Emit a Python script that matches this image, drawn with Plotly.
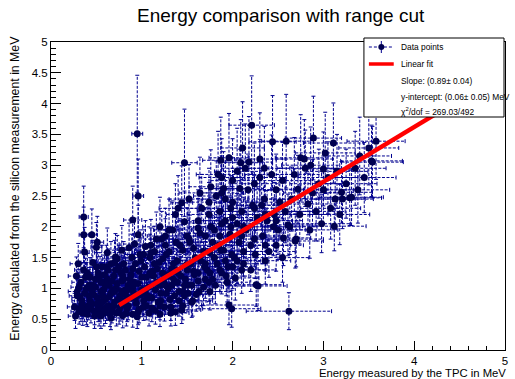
import plotly.graph_objects as go

# ---------------- data ----------------
x_tpc = [
    0.26,0.29,0.31,0.33,0.34,0.36,0.37,0.39,0.40,0.42,
    0.43,0.45,0.46,0.48,0.49,0.51,0.52,0.54,0.55,0.57,
    0.58,0.60,0.61,0.63,0.64,0.66,0.67,0.69,0.70,0.72,
    0.73,0.75,0.76,0.78,0.79,0.81,0.82,0.84,0.85,0.87,
    0.88,0.90,0.91,0.93,0.94,0.96,0.97,0.99,1.00,1.02,
    0.32,0.38,0.44,0.50,0.56,0.62,0.68,0.74,0.80,0.86,
    0.35,0.41,0.47,0.53,0.59,0.65,0.71,0.77,0.83,0.89,
    0.28,0.34,0.40,0.46,0.52,0.58,0.64,0.70,0.76,0.82,
    0.36,0.36,0.45,0.37,0.51,0.50,0.56,0.71,0.86,0.90,
    0.96,0.96,0.95,1.37,1.44,1.47,1.47,1.22,1.30,1.10,
    1.03,1.05,1.07,1.09,1.11,1.13,1.15,1.17,1.19,1.21,
    1.23,1.25,1.27,1.29,1.31,1.33,1.35,1.37,1.39,1.41,
    1.43,1.45,1.47,1.49,1.51,1.53,1.55,1.57,1.59,1.62,
    1.06,1.12,1.18,1.24,1.30,1.36,1.42,1.48,1.54,1.60,
    1.65,1.68,1.70,1.72,1.75,1.78,1.80,1.83,1.85,1.88,
    0.62,0.78,0.92,1.04,1.16,1.26,1.34,1.10,0.98,1.20,
    1.90,1.92,1.95,1.97,2.00,2.02,2.05,2.07,2.10,2.12,
    2.15,2.17,2.20,2.22,2.25,2.27,2.30,2.33,2.35,2.38,
    1.62,1.66,1.70,1.74,1.78,1.82,1.86,1.90,1.94,1.98,
    1.87,1.96,2.21,2.11,2.09,2.44,2.59,2.75,1.88,2.61,
    2.56,2.69,2.26,2.10,2.03,2.28,2.62,1.96,1.99,1.75,
    2.40,2.43,2.46,2.48,2.50,2.52,2.55,2.58,2.45,2.35,
    2.00,2.05,2.14,2.18,2.24,2.30,1.84,1.92,2.08,2.32,
    3.58,3.50,3.53,3.29,3.11,2.89,3.12,3.21,3.00,2.86,
    2.79,2.72,2.83,2.63,3.54,3.31,3.20,3.13,2.65,2.95,
    2.68,2.74,2.80,2.88,2.92,3.00,3.05,3.08,3.15,3.25,
    3.35,3.40,3.45,2.70,2.98,3.18,2.55,2.85,3.38,3.02,
    0.27,0.30,0.55,0.66,0.79,0.95,1.08,1.20,1.32,1.45,
    0.60,0.70,0.80,0.90,1.00,1.10,1.20,1.30,1.40,1.50,
    1.55,1.62,1.68,1.74,1.80,1.86,1.92,2.20,2.36,2.48,
    0.31,0.37,0.43,0.49,0.55,0.61,0.67,0.73,0.79,0.85,
    0.91,0.97,1.03,1.09,1.15,1.21,1.27,1.33,1.39,1.45,
    0.33,0.39,0.45,0.51,0.57,0.63,0.69,0.75,0.81,0.87,
    0.93,0.99,1.05,1.11,1.17,1.23,1.29,1.35,1.41,1.47,
    1.51,1.57,1.63,1.69,1.75,1.81,1.87,1.93,1.99,2.05,
    0.29,0.42,0.54,0.66,0.78,0.90,1.02,1.14,1.26,1.38,
    1.52,1.64,1.76,1.88,2.00,2.12,2.24,2.36,1.58,1.70,
    0.48,0.60,0.72,0.84,0.96,1.08,1.20,1.32,1.44,1.56,
    1.02,1.14,1.26,1.38,1.50,1.62,1.74,1.86,1.98,2.10,
    1.40,1.52,1.64,1.76,1.88,2.00,2.12,2.24,2.36,2.48,
]
y_si = [
    0.70,0.95,0.62,1.10,0.80,1.30,0.68,1.00,0.58,0.88,
    1.18,0.75,1.42,0.63,1.02,0.85,1.25,0.70,0.95,1.10,
    0.60,0.82,1.35,0.72,1.05,0.92,0.66,1.20,0.78,1.00,
    1.48,0.64,0.88,1.12,0.74,0.97,1.30,0.68,1.05,0.84,
    1.22,0.58,0.93,1.40,0.76,1.08,0.66,0.90,1.18,0.80,
    0.85,1.18,0.66,1.35,0.78,1.15,0.98,0.82,1.40,1.00,
    0.60,0.72,0.90,0.60,1.22,0.58,1.30,1.25,0.60,1.50,
    1.20,0.75,1.25,1.05,0.68,0.98,0.86,1.42,0.70,0.90,
    2.16,1.87,1.87,1.59,1.75,1.67,1.35,1.51,1.66,2.11,
    1.87,2.50,3.51,2.20,2.39,2.08,3.04,1.80,1.95,1.70,
    1.35,0.72,1.02,1.50,0.85,1.20,0.64,1.10,1.42,0.92,
    1.25,0.70,1.55,1.00,0.82,1.32,1.15,0.62,1.45,0.95,
    1.20,1.62,0.88,1.38,1.05,1.75,0.78,1.28,1.50,1.12,
    0.88,1.28,0.78,1.10,1.60,0.88,1.70,1.15,1.40,0.90,
    1.45,1.02,1.85,1.30,1.58,1.15,1.95,1.40,1.70,1.25,
    1.58,1.62,1.72,1.68,1.80,1.85,1.95,1.58,1.55,2.00,
    1.62,2.10,1.35,1.88,2.40,1.50,2.05,1.75,2.25,1.40,
    1.95,2.60,1.70,2.35,1.55,2.15,2.80,1.85,2.45,2.10,
    2.10,2.30,1.40,2.20,1.75,2.50,1.30,2.62,1.10,2.30,
    3.08,3.12,3.65,3.28,3.04,3.38,3.39,3.12,2.55,2.03,
    1.82,1.77,1.06,1.30,1.17,1.04,0.63,0.73,0.67,0.95,
    1.60,2.85,2.20,2.60,1.95,2.40,2.75,2.25,2.00,2.95,
    2.75,2.90,2.95,3.05,2.70,3.10,2.85,2.45,2.62,2.35,
    3.39,3.28,3.07,2.47,3.36,3.44,2.01,2.45,2.94,3.00,
    3.10,2.61,2.37,2.00,3.05,2.48,2.56,2.45,2.45,2.70,
    2.85,2.20,2.95,2.55,2.25,2.60,2.80,2.30,2.90,2.70,
    2.95,3.15,2.80,1.80,2.05,2.20,1.50,1.95,2.60,3.20,
    0.55,1.40,0.55,0.52,0.56,0.54,0.60,0.58,0.70,0.72,
    1.05,0.95,1.15,1.02,0.98,1.22,1.05,1.20,1.25,1.30,
    1.05,1.25,1.60,1.10,1.50,1.85,1.45,1.30,1.45,1.70,
    1.02,0.92,0.80,1.15,1.10,0.70,1.12,1.08,1.20,0.72,
    1.10,1.28,0.95,1.25,0.98,0.80,0.92,1.05,1.10,0.95,
    0.68,0.62,0.98,0.75,0.88,1.30,0.72,1.35,0.80,1.15,
    0.85,1.45,1.18,0.68,1.32,1.48,1.22,1.40,0.80,1.05,
    0.92,1.65,0.95,1.35,1.25,1.05,1.62,1.20,1.55,1.45,
    0.88,1.05,1.20,1.40,0.95,1.32,0.70,1.40,1.05,1.30,
    1.80,1.90,2.00,2.05,2.15,2.00,2.30,2.20,1.22,1.15,
    0.55,0.64,0.60,0.98,0.62,0.85,0.72,0.60,0.65,0.80,
    1.55,1.60,1.70,1.75,1.85,1.98,2.40,2.25,2.00,1.85,
    2.30,2.45,2.55,2.65,2.80,1.35,1.60,1.80,1.70,2.10,
]
ex_tpc = [
    0.08,0.10,0.09,0.10,0.11,0.10,0.09,0.12,0.10,0.11,
    0.12,0.11,0.13,0.10,0.12,0.12,0.14,0.11,0.12,0.13,
    0.12,0.13,0.15,0.13,0.14,0.14,0.13,0.15,0.14,0.15,
    0.16,0.14,0.15,0.16,0.15,0.16,0.17,0.15,0.16,0.16,
    0.17,0.15,0.16,0.18,0.16,0.17,0.16,0.17,0.18,0.17,
    0.09,0.11,0.12,0.13,0.13,0.14,0.14,0.15,0.16,0.16,
    0.10,0.11,0.12,0.13,0.14,0.14,0.15,0.16,0.16,0.17,
    0.09,0.10,0.11,0.12,0.13,0.13,0.14,0.15,0.15,0.16,
    0.05,0.05,0.06,0.05,0.07,0.06,0.08,0.10,0.12,0.10,
    0.05,0.06,0.06,0.10,0.12,0.10,0.14,0.12,0.12,0.12,
    0.18,0.17,0.18,0.19,0.18,0.19,0.17,0.19,0.20,0.18,
    0.20,0.18,0.21,0.19,0.19,0.21,0.20,0.18,0.21,0.19,
    0.21,0.22,0.20,0.22,0.21,0.23,0.20,0.22,0.23,0.22,
    0.17,0.19,0.18,0.19,0.21,0.20,0.22,0.21,0.22,0.21,
    0.23,0.22,0.24,0.23,0.24,0.23,0.25,0.24,0.25,0.24,
    0.14,0.16,0.17,0.18,0.19,0.20,0.21,0.18,0.17,0.19,
    0.25,0.24,0.26,0.25,0.26,0.25,0.27,0.26,0.27,0.26,
    0.27,0.28,0.27,0.28,0.27,0.28,0.29,0.28,0.29,0.28,
    0.22,0.23,0.23,0.24,0.24,0.25,0.25,0.26,0.25,0.26,
    0.20,0.22,0.25,0.24,0.24,0.26,0.27,0.28,0.24,0.30,
    0.30,0.31,0.30,0.27,0.26,0.32,0.47,0.30,0.32,0.24,
    0.29,0.30,0.29,0.30,0.30,0.31,0.31,0.30,0.29,0.28,
    0.24,0.25,0.26,0.26,0.27,0.28,0.24,0.25,0.26,0.28,
    0.32,0.33,0.34,0.35,0.33,0.31,0.35,0.34,0.33,0.32,
    0.31,0.30,0.31,0.30,0.34,0.35,0.34,0.33,0.30,0.32,
    0.30,0.31,0.31,0.32,0.32,0.33,0.33,0.33,0.34,0.34,
    0.34,0.35,0.35,0.30,0.32,0.33,0.29,0.31,0.35,0.33,
    0.08,0.09,0.12,0.14,0.15,0.17,0.18,0.19,0.20,0.21,
    0.13,0.14,0.15,0.16,0.17,0.18,0.19,0.20,0.21,0.21,
    0.22,0.22,0.23,0.24,0.24,0.25,0.25,0.27,0.28,0.30,
    0.09,0.11,0.12,0.13,0.13,0.14,0.14,0.15,0.16,0.16,
    0.17,0.17,0.18,0.18,0.19,0.19,0.20,0.20,0.21,0.21,
    0.10,0.11,0.12,0.13,0.13,0.14,0.15,0.15,0.16,0.16,
    0.17,0.17,0.18,0.19,0.19,0.20,0.20,0.21,0.21,0.22,
    0.22,0.22,0.23,0.23,0.24,0.24,0.25,0.25,0.26,0.26,
    0.09,0.11,0.13,0.14,0.15,0.16,0.17,0.19,0.20,0.21,
    0.22,0.23,0.24,0.25,0.26,0.27,0.27,0.28,0.22,0.23,
    0.12,0.13,0.15,0.16,0.17,0.18,0.19,0.20,0.21,0.22,
    0.18,0.19,0.20,0.21,0.22,0.22,0.24,0.25,0.26,0.27,
    0.21,0.22,0.23,0.24,0.25,0.26,0.27,0.27,0.28,0.29,
]
ey_si = [
    0.22,0.28,0.20,0.30,0.25,0.33,0.22,0.28,0.20,0.26,
    0.32,0.24,0.36,0.22,0.29,0.26,0.33,0.23,0.28,0.31,
    0.21,0.26,0.35,0.23,0.30,0.27,0.22,0.32,0.25,0.29,
    0.38,0.22,0.27,0.31,0.24,0.28,0.34,0.22,0.30,0.26,
    0.33,0.21,0.27,0.37,0.24,0.30,0.22,0.27,0.32,0.25,
    0.26,0.31,0.22,0.35,0.24,0.31,0.28,0.25,0.36,0.28,
    0.20,0.23,0.27,0.21,0.32,0.20,0.34,0.33,0.21,0.38,
    0.31,0.24,0.32,0.29,0.22,0.28,0.26,0.36,0.23,0.27,
    0.50,0.45,0.42,0.40,0.42,0.40,0.35,0.38,0.40,0.55,
    0.48,0.60,0.95,0.50,0.60,0.50,0.87,0.45,0.50,0.42,
    0.35,0.23,0.29,0.38,0.26,0.32,0.22,0.30,0.36,0.27,
    0.33,0.23,0.40,0.29,0.26,0.35,0.31,0.22,0.37,0.28,
    0.32,0.42,0.27,0.36,0.30,0.44,0.25,0.34,0.39,0.31,
    0.27,0.34,0.25,0.31,0.41,0.27,0.43,0.31,0.37,0.27,
    0.38,0.30,0.46,0.35,0.40,0.32,0.48,0.37,0.43,0.34,
    0.40,0.40,0.42,0.42,0.44,0.45,0.47,0.40,0.40,0.48,
    0.41,0.50,0.36,0.45,0.55,0.38,0.49,0.43,0.52,0.36,
    0.47,0.58,0.42,0.54,0.39,0.50,0.62,0.45,0.55,0.49,
    0.50,0.55,0.36,0.52,0.43,0.57,0.35,0.60,0.32,0.53,
    0.70,0.72,0.80,0.75,0.70,0.75,0.76,0.70,0.60,0.50,
    0.45,0.44,0.35,0.38,0.36,0.40,0.30,0.32,0.30,0.30,
    0.42,0.64,0.52,0.58,0.48,0.55,0.62,0.51,0.47,0.68,
    0.68,0.70,0.72,0.74,0.66,0.75,0.70,0.60,0.64,0.56,
    0.62,0.60,0.58,0.45,0.65,0.68,0.40,0.48,0.60,0.62,
    0.64,0.55,0.50,0.45,0.58,0.46,0.50,0.49,0.52,0.56,
    0.60,0.48,0.62,0.54,0.48,0.55,0.58,0.50,0.60,0.56,
    0.60,0.63,0.57,0.45,0.47,0.49,0.40,0.46,0.54,0.66,
    0.20,0.33,0.20,0.19,0.20,0.19,0.21,0.20,0.22,0.23,
    0.29,0.27,0.31,0.28,0.27,0.32,0.29,0.32,0.33,0.34,
    0.30,0.34,0.40,0.31,0.38,0.44,0.37,0.35,0.38,0.42,
    0.29,0.27,0.25,0.31,0.30,0.22,0.31,0.30,0.33,0.23,
    0.30,0.34,0.28,0.33,0.28,0.25,0.27,0.29,0.30,0.28,
    0.22,0.21,0.28,0.24,0.26,0.34,0.23,0.35,0.25,0.31,
    0.26,0.37,0.32,0.22,0.34,0.38,0.33,0.36,0.25,0.29,
    0.27,0.41,0.28,0.35,0.33,0.30,0.41,0.32,0.39,0.37,
    0.26,0.29,0.32,0.36,0.28,0.34,0.22,0.36,0.29,0.34,
    0.44,0.46,0.48,0.49,0.50,0.48,0.53,0.51,0.32,0.31,
    0.20,0.21,0.21,0.28,0.21,0.25,0.23,0.21,0.22,0.25,
    0.40,0.41,0.43,0.44,0.46,0.48,0.55,0.52,0.48,0.45,
    0.53,0.56,0.58,0.60,0.63,0.35,0.40,0.44,0.42,0.49,
]

fit_slope = 0.89
fit_intercept = 0.06
fit_range = [0.75, 4.5]

legend_texts = ["Data points", "Linear fit", "Slope: (0.89\u00b1 0.04)",
                "y-intercept: (0.06\u00b1 0.05) MeV", "\u03c7<sup>2</sup>/dof = 269.03/492"]

# ---------------- layout geometry ----------------
W, H = 515, 379
L, R, T, B = 51, 7, 42, 29
PW, PH = W - L - R, H - T - B
FONT = "Liberation Sans, Arial, sans-serif"
ERR_COL = "#00008f"
MK_COL = "#000050"

def pxx(p):
    return (p - L) / PW

def pxy(p):
    return (H - B - p) / PH

# error bar segments
cap_x = 2.0 * 5 / PW   # 2 px in data units
cap_y = 2.0 * 5 / PH
sx, sy, cx, cy = [], [], [], []
for xi, yi, exi, eyi in zip(x_tpc, y_si, ex_tpc, ey_si):
    sx += [xi - exi, xi + exi, None, xi, xi, None]
    sy += [yi, yi, None, yi - eyi, yi + eyi, None]
    cx += [xi - exi, xi - exi, None, xi + exi, xi + exi, None,
           xi - cap_x, xi + cap_x, None, xi - cap_x, xi + cap_x, None]
    cy += [yi - cap_y, yi + cap_y, None, yi - cap_y, yi + cap_y, None,
           yi - eyi, yi - eyi, None, yi + eyi, yi + eyi, None]

fig = go.Figure()
fig.add_trace(go.Scatter(x=sx, y=sy, mode="lines", hoverinfo="skip",
                         line=dict(color=ERR_COL, width=1, dash="3px,1.5px"), showlegend=False))
fig.add_trace(go.Scatter(x=cx, y=cy, mode="lines", hoverinfo="skip",
                         line=dict(color=ERR_COL, width=1), showlegend=False))
fig.add_trace(go.Scatter(x=x_tpc, y=y_si, mode="markers", showlegend=False,
                         marker=dict(color=MK_COL, size=7, line=dict(width=0))))
fig.add_trace(go.Scatter(x=fit_range, y=[fit_slope * v + fit_intercept for v in fit_range],
                         mode="lines", line=dict(color="#ff0000", width=4.5), showlegend=False))

# legend box drawn as shapes/annotations (ROOT TLegend style)
lx0, lx1, ly0, ly1 = 366, 507, 38, 117
shapes = [
    dict(type="rect", xref="paper", yref="paper", x0=pxx(lx0), x1=pxx(lx1), y0=pxy(ly1), y1=pxy(ly0),
         line=dict(color="black", width=1), fillcolor="white", layer="above"),
    dict(type="line", xref="paper", yref="paper", x0=pxx(371), x1=pxx(396), y0=pxy(47), y1=pxy(47),
         line=dict(color=ERR_COL, width=1, dash="3px,2px"), layer="above"),
    dict(type="line", xref="paper", yref="paper", x0=pxx(383.5), x1=pxx(383.5), y0=pxy(41), y1=pxy(53),
         line=dict(color=ERR_COL, width=1), layer="above"),
    dict(type="circle", xref="paper", yref="paper", x0=pxx(380.5), x1=pxx(386.5), y0=pxy(50), y1=pxy(44),
         line=dict(color=MK_COL, width=0), fillcolor=MK_COL, layer="above"),
    dict(type="line", xref="paper", yref="paper", x0=pxx(371), x1=pxx(396), y0=pxy(64), y1=pxy(64),
         line=dict(color="#ff0000", width=3.5), layer="above"),
]
annotations = []
for txt, yp in zip(legend_texts, [47, 64, 81, 97, 111]):
    annotations.append(dict(text=txt, xref="paper", yref="paper", x=pxx(401), y=pxy(yp),
                            xanchor="left", yanchor="middle", showarrow=False,
                            font=dict(family=FONT, size=8.4, color="black")))
annotations.append(dict(text="Energy measured by the TPC in MeV", xref="paper", yref="paper",
                        x=1, y=0, xanchor="right", yanchor="top", yshift=-15, xshift=3,
                        showarrow=False, font=dict(family=FONT, size=11.3, color="black")))
annotations.append(dict(text="Energy calculated from the silicon measurement in MeV", xref="paper",
                        yref="paper", x=pxx(14), y=pxy(34), xanchor="center", yanchor="top",
                        textangle=-90, showarrow=False,
                        font=dict(family=FONT, size=12.3, color="black")))
annotations.append(dict(text="Energy comparison with range cut", xref="paper", yref="paper",
                        x=pxx(283), y=pxy(15), xanchor="center", yanchor="middle", showarrow=False,
                        font=dict(family=FONT, size=19, color="black")))

axis_common = dict(showgrid=False, zeroline=False, showline=True, mirror=True, linecolor="black",
                   linewidth=1, ticks="inside", tickcolor="black", tickwidth=1,
                   tickfont=dict(family=FONT, size=11.5, color="black"), range=[0, 5])
fig.update_layout(
    width=W, height=H, margin=dict(l=L, r=R, t=T, b=B, pad=0),
    paper_bgcolor="white", plot_bgcolor="white", showlegend=False,
    xaxis=dict(**axis_common, dtick=1, tick0=0, ticklen=9,
               minor=dict(dtick=0.2, ticks="inside", ticklen=4.5, tickcolor="black")),
    yaxis=dict(**axis_common, dtick=0.5, tick0=0, ticklen=10,
               minor=dict(dtick=0.1, ticks="inside", ticklen=5, tickcolor="black")),
    shapes=shapes, annotations=annotations,
)
fig.write_html("out.html")
